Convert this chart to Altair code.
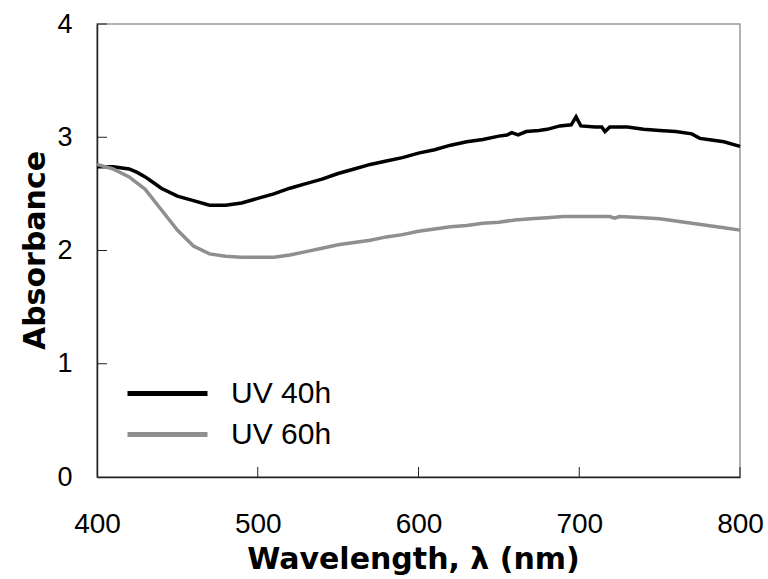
import altair as alt
import pandas as pd

# UV 40h series
wl_40 = [400, 410, 420, 425, 430, 435, 440, 450, 460, 470, 480, 490, 500, 510, 520, 530, 540,
         550, 560, 570, 580, 590, 600, 610, 620, 630, 640, 650, 655, 658, 662, 667,
         675, 680, 688, 695, 698, 701, 710, 714, 716, 719, 730, 740, 750, 760, 770,
         775, 780, 790, 800]
abs_40 = [2.74, 2.74, 2.72, 2.69, 2.65, 2.60, 2.55, 2.48, 2.44, 2.40, 2.40, 2.42, 2.46, 2.50, 2.55, 2.59, 2.63,
          2.68, 2.72, 2.76, 2.79, 2.82, 2.86, 2.89, 2.93, 2.96, 2.98, 3.01, 3.02, 3.04, 3.02, 3.05,
          3.06, 3.07, 3.10, 3.11, 3.18, 3.10, 3.09, 3.09, 3.05, 3.09, 3.09, 3.07, 3.06, 3.05, 3.03,
          2.99, 2.98, 2.96, 2.92]

# UV 60h series
wl_60 = [400, 410, 420, 430, 440, 450, 460, 470, 480, 490, 500, 510, 520, 530, 540,
         550, 560, 570, 580, 590, 600, 610, 620, 630, 640, 650, 660, 670, 680, 690,
         700, 710, 719, 722, 725, 740, 750, 760, 770, 780, 790, 800]
abs_60 = [2.76, 2.72, 2.65, 2.54, 2.36, 2.18, 2.04, 1.97, 1.95, 1.94, 1.94, 1.94, 1.96, 1.99, 2.02,
          2.05, 2.07, 2.09, 2.12, 2.14, 2.17, 2.19, 2.21, 2.22, 2.24, 2.25, 2.27, 2.28, 2.29, 2.30,
          2.30, 2.30, 2.30, 2.285, 2.30, 2.29, 2.28, 2.26, 2.24, 2.22, 2.20, 2.18]

series_names = ["UV 40h", "UV 60h"]
series_colors = ["#000000", "#8f8f8f"]

x_ticks = [400, 500, 600, 700, 800]
y_ticks = [0, 1, 2, 3, 4]

rows = []
for w, a in zip(wl_40, abs_40):
    rows.append({"wl": w, "abs": a, "series": series_names[0]})
for w, a in zip(wl_60, abs_60):
    rows.append({"wl": w, "abs": a, "series": series_names[1]})
df = pd.DataFrame(rows)

W, H = 643, 453

xscale = alt.Scale(domain=[400, 800], nice=False, zero=False)
yscale = alt.Scale(domain=[0, 4], nice=False)

xaxis = alt.Axis(values=x_ticks, format="d", title="Wavelength, λ (nm)", grid=False,
                 tickSize=0, tickColor="transparent", labelPadding=33,
                 labelFont="Liberation Sans", labelFontSize=28, labelColor="#000",
                 labelFlush=False, domainColor="#222", domainWidth=1.5,
                 titleFont="DejaVu Sans", titleFontSize=30, titleFontWeight="bold",
                 titleColor="#000", titleX=316, titleY=91, titleBaseline="alphabetic",
                 titleAlign="center")
yaxis = alt.Axis(values=y_ticks, format="d", title="Absorbance", grid=False,
                 tickSize=0, tickColor="transparent", labelPadding=25,
                 labelFont="Liberation Sans", labelFontSize=27, labelColor="#000",
                 labelFlush=False, domainColor="#222", domainWidth=1.5,
                 titleFont="DejaVu Sans", titleFontSize=30, titleFontWeight="bold",
                 titleColor="#000", titleX=-62, titleY=226, titleAngle=270,
                 titleBaseline="middle", titleAlign="center")

lines = alt.Chart(df).mark_line(strokeWidth=3.5, interpolate="linear").encode(
    x=alt.X("wl:Q", scale=xscale, axis=xaxis),
    y=alt.Y("abs:Q", scale=yscale, axis=yaxis),
    color=alt.Color("series:N",
                    scale=alt.Scale(domain=series_names, range=series_colors),
                    legend=alt.Legend(title=None, orient="none", legendX=28, legendY=349,
                                      symbolType="stroke", symbolSize=6400,
                                      symbolStrokeWidth=5, labelFont="Liberation Sans",
                                      labelFontSize=30, labelColor="#000",
                                      labelOffset=21, rowPadding=0, clipHeight=41)),
    detail="series:N",
)

xt = pd.DataFrame({"v": x_ticks[1:]})
yt = pd.DataFrame({"v": y_ticks[1:]})

xtick_marks = alt.Chart(xt).mark_rule(color="#222", strokeWidth=1).encode(
    x=alt.X("v:Q", scale=xscale), y=alt.value(H), y2=alt.value(H - 10))
ytick_marks = alt.Chart(yt).mark_rule(color="#222", strokeWidth=1).encode(
    y=alt.Y("v:Q", scale=yscale), x=alt.value(0), x2=alt.value(10))

chart = alt.layer(lines, xtick_marks, ytick_marks).properties(
    width=W, height=H,
    padding={"left": 97, "top": 24, "right": 28, "bottom": 102},
    autosize=alt.AutoSizeParams(type="none"),
    background="white",
).configure_view(stroke="#999999", strokeWidth=1.5)

chart.save("out.html", embed_options={"renderer": "svg", "actions": False})
